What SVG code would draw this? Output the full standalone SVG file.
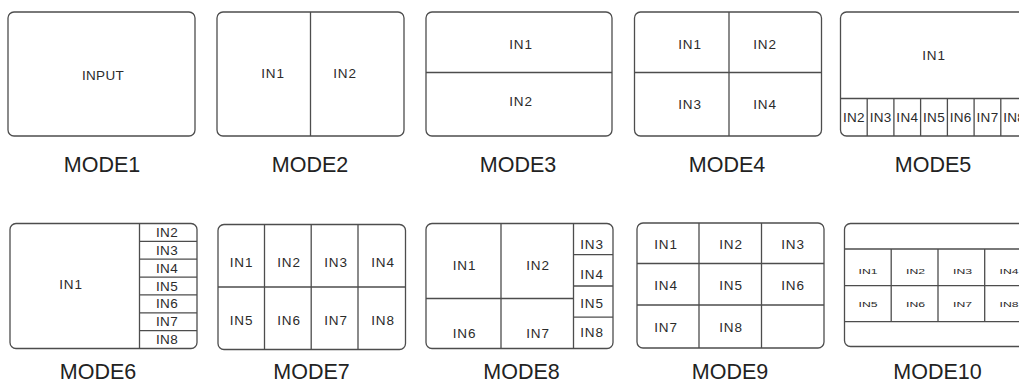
<svg xmlns="http://www.w3.org/2000/svg" width="1019" height="383" viewBox="0 0 1019 383">
<style>
.frame{fill:none;stroke:#4d4d4d;stroke-width:1.3}
.ln{stroke:#4d4d4d;stroke-width:1.3;fill:none}
text{font-family:"Liberation Sans",Arial,sans-serif;fill:#2b2b2b;text-anchor:middle}
.lbl{font-size:13.5px;letter-spacing:0.8px;dominant-baseline:central}
.sm{font-size:7.5px;dominant-baseline:central}
.mode{font-size:21.5px;fill:#222}
</style>
<rect width="1019" height="383" fill="#fff"/>
<g id="mode1">
<rect class="frame" x="8" y="12" width="187" height="124" rx="6"/>
<text class="lbl" x="103" y="75" style="letter-spacing:0.3px">INPUT</text>
<text class="mode" x="102" y="171.5">MODE1</text>
</g>
<g id="mode2">
<rect class="frame" x="217" y="12" width="187" height="124" rx="6"/>
<path class="ln" d="M310.5 12V136"/>
<text class="lbl" x="273" y="73">IN1</text>
<text class="lbl" x="345" y="73">IN2</text>
<text class="mode" x="310" y="171.5">MODE2</text>
</g>
<g id="mode3">
<rect class="frame" x="426" y="12" width="186" height="124" rx="6"/>
<path class="ln" d="M426 72.5H612"/>
<text class="lbl" x="521" y="44">IN1</text>
<text class="lbl" x="521" y="101">IN2</text>
<text class="mode" x="518" y="171.5">MODE3</text>
</g>
<g id="mode4">
<rect class="frame" x="634.5" y="12" width="187" height="124" rx="6"/>
<path class="ln" d="M729 12V136M634.5 72.5H821.5"/>
<text class="lbl" x="690" y="44">IN1</text>
<text class="lbl" x="765" y="44">IN2</text>
<text class="lbl" x="690" y="104">IN3</text>
<text class="lbl" x="765" y="104">IN4</text>
<text class="mode" x="727" y="171.5">MODE4</text>
</g>
<g id="mode5">
<rect class="frame" x="840.5" y="12" width="187" height="124" rx="6"/>
<path class="ln" d="M840.5 98.5H1027.5M867.2 98.5V136M893.9 98.5V136M920.6 98.5V136M947.4 98.5V136M974.1 98.5V136M1000.8 98.5V136"/>
<text class="lbl" x="934" y="55">IN1</text>
<text class="lbl" x="853.9" y="117" style="letter-spacing:0.3px">IN2</text>
<text class="lbl" x="880.6" y="117" style="letter-spacing:0.3px">IN3</text>
<text class="lbl" x="907.3" y="117" style="letter-spacing:0.3px">IN4</text>
<text class="lbl" x="934" y="117" style="letter-spacing:0.3px">IN5</text>
<text class="lbl" x="960.7" y="117" style="letter-spacing:0.3px">IN6</text>
<text class="lbl" x="987.5" y="117" style="letter-spacing:0.3px">IN7</text>
<text class="lbl" x="1014.2" y="117" style="letter-spacing:0.3px">IN8</text>
<text class="mode" x="933" y="171.5">MODE5</text>
</g>
<g id="mode6">
<rect class="frame" x="10" y="223.5" width="187" height="125" rx="6"/>
<path class="ln" d="M139.5 223.5V348.5M139.5 241.4H197M139.5 259.2H197M139.5 277.1H197M139.5 294.9H197M139.5 312.8H197M139.5 330.6H197"/>
<text class="lbl" x="71" y="284">IN1</text>
<text class="lbl" x="167" y="232.4" style="letter-spacing:0.3px">IN2</text>
<text class="lbl" x="167" y="250.3" style="letter-spacing:0.3px">IN3</text>
<text class="lbl" x="167" y="268.1" style="letter-spacing:0.3px">IN4</text>
<text class="lbl" x="167" y="286" style="letter-spacing:0.3px">IN5</text>
<text class="lbl" x="167" y="303.8" style="letter-spacing:0.3px">IN6</text>
<text class="lbl" x="167" y="321.7" style="letter-spacing:0.3px">IN7</text>
<text class="lbl" x="167" y="339.5" style="letter-spacing:0.3px">IN8</text>
<text class="mode" x="98" y="378.5">MODE6</text>
</g>
<g id="mode7">
<rect class="frame" x="218" y="224.5" width="187.5" height="125" rx="6"/>
<path class="ln" d="M264.5 224.5V349.5M311.2 224.5V349.5M358 224.5V349.5M218 287H405.5"/>
<text class="lbl" x="241.5" y="262">IN1</text>
<text class="lbl" x="289" y="262">IN2</text>
<text class="lbl" x="336" y="262">IN3</text>
<text class="lbl" x="383" y="262">IN4</text>
<text class="lbl" x="241.5" y="320">IN5</text>
<text class="lbl" x="289" y="320">IN6</text>
<text class="lbl" x="336" y="320">IN7</text>
<text class="lbl" x="383" y="320">IN8</text>
<text class="mode" x="311.5" y="378.5">MODE7</text>
</g>
<g id="mode8">
<rect class="frame" x="426" y="223.5" width="187" height="125" rx="6"/>
<path class="ln" d="M501 223.5V348.5M573.5 223.5V348.5M426 298.5H573.5M573.5 254.7H613M573.5 286H613M573.5 317.2H613"/>
<text class="lbl" x="464.5" y="265">IN1</text>
<text class="lbl" x="538" y="265">IN2</text>
<text class="lbl" x="464.5" y="333">IN6</text>
<text class="lbl" x="538" y="333">IN7</text>
<text class="lbl" x="592" y="244">IN3</text>
<text class="lbl" x="592" y="274">IN4</text>
<text class="lbl" x="592" y="303.5">IN5</text>
<text class="lbl" x="592" y="332.5">IN8</text>
<text class="mode" x="521.5" y="378.5">MODE8</text>
</g>
<g id="mode9">
<rect class="frame" x="637" y="223" width="187" height="125" rx="6"/>
<path class="ln" d="M699 223V348M761.5 223V348M637 263.5H824M637 305H824"/>
<text class="lbl" x="666" y="244.5">IN1</text>
<text class="lbl" x="731" y="244.5">IN2</text>
<text class="lbl" x="793" y="244.5">IN3</text>
<text class="lbl" x="666" y="285">IN4</text>
<text class="lbl" x="731" y="285">IN5</text>
<text class="lbl" x="793" y="285">IN6</text>
<text class="lbl" x="666" y="327">IN7</text>
<text class="lbl" x="731" y="327">IN8</text>
<text class="mode" x="730" y="378.5">MODE9</text>
</g>
<g id="mode10">
<rect class="frame" x="844.5" y="223.5" width="187" height="123" rx="6"/>
<path class="ln" d="M844.5 249H1031.5M844.5 285.7H1031.5M844.5 321.7H1031.5M891.2 249V321.7M938 249V321.7M984.7 249V321.7"/>
<text class="sm" x="868" y="271" textLength="19" lengthAdjust="spacingAndGlyphs">IN1</text>
<text class="sm" x="915.5" y="271" textLength="19" lengthAdjust="spacingAndGlyphs">IN2</text>
<text class="sm" x="962.5" y="271" textLength="19" lengthAdjust="spacingAndGlyphs">IN3</text>
<text class="sm" x="1009" y="271" textLength="19" lengthAdjust="spacingAndGlyphs">IN4</text>
<text class="sm" x="868" y="304" textLength="19" lengthAdjust="spacingAndGlyphs">IN5</text>
<text class="sm" x="915.5" y="304" textLength="19" lengthAdjust="spacingAndGlyphs">IN6</text>
<text class="sm" x="962.5" y="304" textLength="19" lengthAdjust="spacingAndGlyphs">IN7</text>
<text class="sm" x="1009" y="304" textLength="19" lengthAdjust="spacingAndGlyphs">IN8</text>
<text class="mode" x="937.5" y="378.5">MODE10</text>
</g>
</svg>
